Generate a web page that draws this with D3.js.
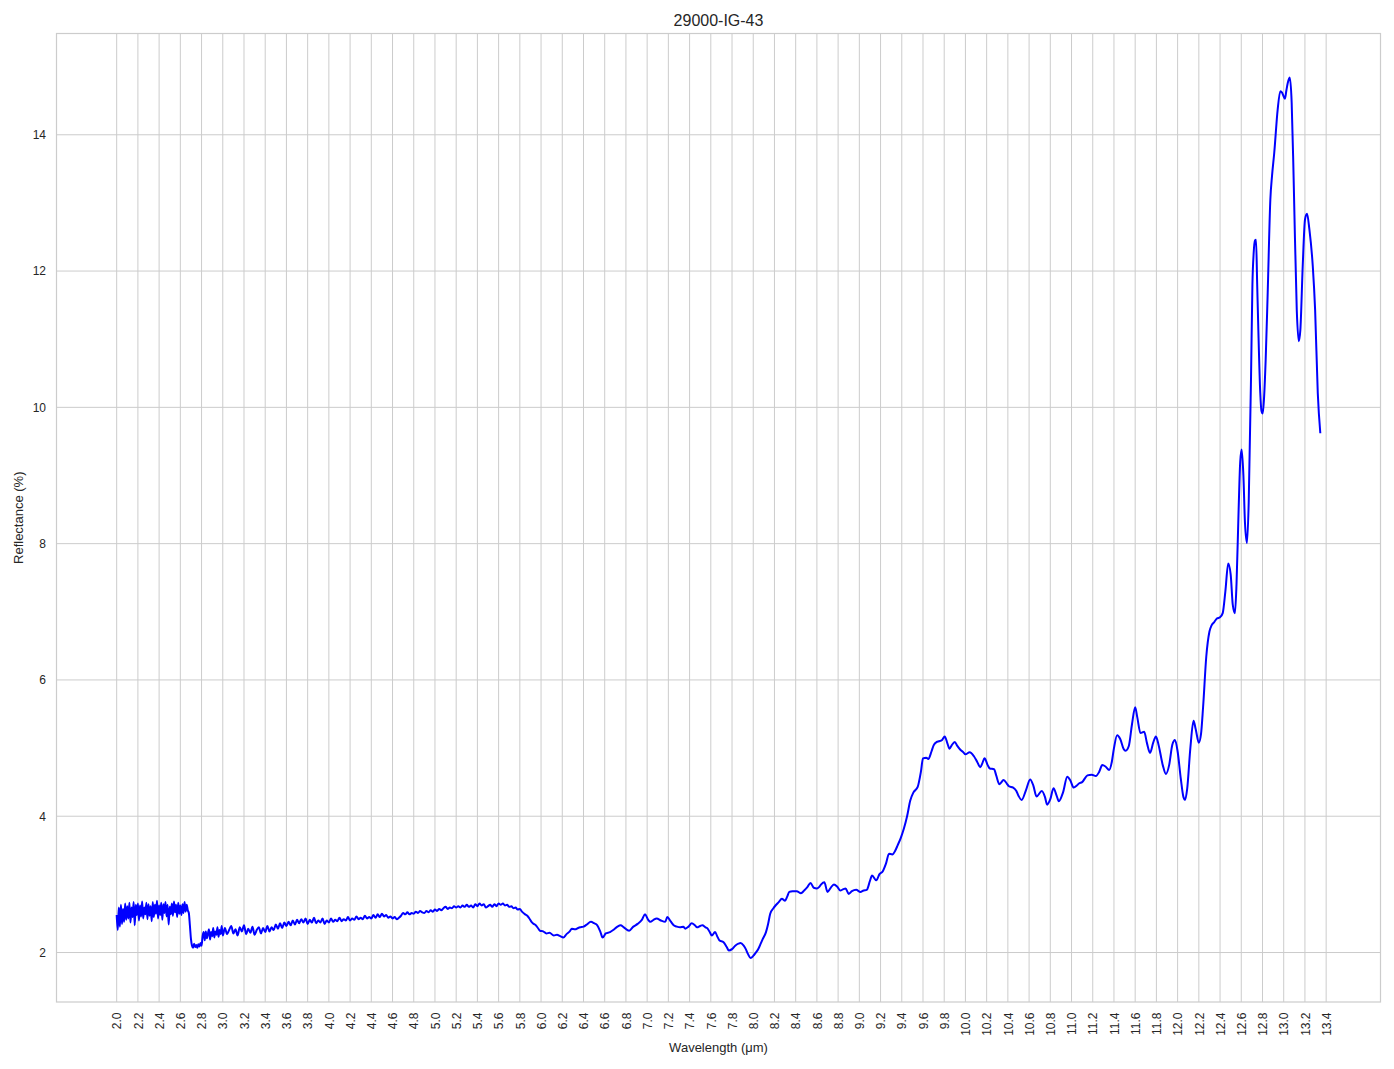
<!DOCTYPE html>
<html>
<head>
<meta charset="utf-8">
<script src="https://cdn.jsdelivr.net/npm/d3@7"></script>
<style>
  html, body { margin: 0; padding: 0; background: #fff; }
  svg { display: block; font-family: "Liberation Sans", Arial, sans-serif; }
</style>
</head>
<body>
<svg id="chart" width="1394" height="1069"></svg>
<script>
// ---------- DATA ----------
const chartTitle = "29000-IG-43";
const xLabel = "Wavelength (μm)";
const yLabel = "Reflectance (%)";

// x tick labels (μm)
const xTicks = ["2.0","2.2","2.4","2.6","2.8","3.0","3.2","3.4","3.6","3.8","4.0","4.2","4.4","4.6","4.8","5.0","5.2","5.4","5.6","5.8","6.0","6.2","6.4","6.6","6.8","7.0","7.2","7.4","7.6","7.8","8.0","8.2","8.4","8.6","8.8","9.0","9.2","9.4","9.6","9.8","10.0","10.2","10.4","10.6","10.8","11.0","11.2","11.4","11.6","11.8","12.0","12.2","12.4","12.6","12.8","13.0","13.2","13.4"];
const yTicks = [2, 4, 6, 8, 10, 12, 14];

// Segment 1: noisy detector region, sampled every 0.01 μm starting at 2.00
const seg1Start = 2.00, seg1Step = 0.01;
const seg1Refl = [
  2.55,2.33,2.66,2.38,2.70,2.42,2.64,2.45,2.72,2.48,
  2.68,2.50,2.73,2.44,2.66,2.52,2.74,2.40,2.70,2.55,
  2.72,2.47,2.69,2.53,2.75,2.50,2.66,2.56,2.73,2.49,
  2.71,2.54,2.68,2.46,2.74,2.52,2.70,2.57,2.76,2.50,
  2.69,2.55,2.73,2.48,2.71,2.58,2.74,2.53,2.70,2.41,
  2.67,2.56,2.72,2.54,2.75,2.59,2.70,2.52,2.73,2.57,
  2.69,2.55,2.71,2.58,2.74,2.60,2.70,2.62,
  2.58,2.40,2.20,2.10,2.07,2.13,2.08,2.11,2.07,2.12,
  2.09,2.14,2.10,2.24,2.30,2.18,2.31,2.21,2.28,2.34,
  2.19,2.30,2.24,2.36,2.22,2.31,2.26,2.37,2.23,2.33,
  2.27,2.39,2.25
];

// Segment 2: sampled every 0.02 μm starting at 3.02
const seg2Start = 3.02, seg2Step = 0.02;
const seg2Refl = [
  2.36,2.27,2.33,2.39,2.28,2.34,2.25,2.37,2.31,2.40,
  2.27,2.35,2.29,2.38,2.26,2.33,2.37,2.28,2.36,2.30,
  2.39,2.31,2.37,2.33,2.41,2.35,2.43,2.36,2.44,2.39,
  2.45,2.40,2.47,2.41,2.48,2.43,2.49,2.44,2.50,2.42,
  2.48,2.44,2.51,2.43,2.47,2.44,2.50,2.42,2.47,2.44,
  2.50,2.45,2.48,2.46,2.51,2.46,2.49,2.47,2.52,2.47,
  2.50,2.48,2.53,2.49,2.51,2.49,2.54,2.50,2.52,2.50,
  2.55,2.51,2.56,2.52,2.57,2.53,2.55,2.51,2.53,2.50,
  2.52,2.49,2.51,2.54,2.58,2.56,2.59,2.56,2.58,2.57,
  2.60,2.58,2.61,2.59,2.58,2.61,2.59,2.62,2.60,2.63,
  2.61,2.64,2.62,2.65,2.67,2.64,2.66,2.65,2.68,2.66,
  2.68,2.66,2.69,2.67,2.70,2.67,2.69,2.66,2.71,2.68,
  2.72,2.69,2.71,2.66,2.68,2.70,2.67,2.71,2.68,2.72,
  2.70,2.72,2.69,2.70,2.67,2.68,2.65,2.66,2.63,2.64
];

// Segment 3: smoother part, irregularly read points
const seg3Wave = [
  5.82,5.85,5.87,5.89,5.91,5.93,5.95,5.97,5.99,6.02,6.05,6.08,6.12,6.15,6.18,6.21,6.24,6.27,6.29,6.32,
  6.35,6.37,6.40,6.43,6.47,6.50,6.53,6.56,6.58,6.61,6.65,6.68,6.72,6.75,6.78,6.83,6.87,6.91,6.95,6.98,
  7.01,7.03,7.06,7.09,7.13,7.17,7.19,7.22,7.25,7.28,7.31,7.34,7.36,7.39,7.42,7.45,7.47,7.50,7.52,7.55,
  7.57,7.59,7.61,7.64,7.66,7.68,7.72,7.75,7.77,7.80,7.83,7.86,7.88,7.91,7.93,7.95,7.975,8.00,8.02,8.05,
  8.07,8.09,8.12,8.14,8.16,8.19,8.21,8.24,8.27,8.30,8.32,8.34,8.37,8.41,8.45,8.48,8.51,8.54,8.57,8.60,
  8.62,8.64,8.67,8.70,8.73,8.76,8.79,8.82,8.85,8.87,8.90,8.93,8.97,9.01,9.04,9.07,9.10,9.12,9.16,9.19,
  9.22,9.25,9.28,9.31,9.34,9.36,9.39,9.42,9.45,9.48,9.51,9.55,9.58,9.60,9.63,9.65,9.68,9.70,9.73,9.75,
  9.78,9.805,9.83,9.85,9.87,9.90,9.92,9.95,9.98,10.00,10.04,10.08,10.11,10.14,10.16,10.18,10.21,10.23,10.27,10.29,
  10.32,10.36,10.39,10.41,10.45,10.48,10.50,10.53,10.57,10.61,10.64,10.67,10.72,10.75,10.77,10.80,10.83,10.86,10.88,10.92,
  10.96,10.99,11.02,11.05,11.07,11.10,11.15,11.19,11.23,11.26,11.29,11.32,11.355,11.38,11.40,11.43,11.46,11.49,11.51,11.54,
  11.57,11.60,11.62,11.65,11.685,11.71,11.74,11.77,11.795,11.82,11.86,11.89,11.92,11.95,11.975,12.00,12.03,12.055,12.07,12.09,
  12.12,12.15,12.17,12.20,12.22,12.24,12.27,12.30,12.32,12.345,12.37,12.40,12.425,12.45,12.477,12.50,12.52,12.54,12.555,12.575,
  12.59,12.604,12.62,12.635,12.654,12.67,12.692,12.705,12.717,12.73,12.739,12.75,12.76,12.779,12.79,12.802,12.815,12.83,12.849,12.874,
  12.89,12.911,12.943,12.968,12.984,13.00,13.012,13.025,13.038,13.057,13.075,13.09,13.10,13.123,13.142,13.157,13.179,13.201,13.22,13.242,
  13.274,13.296,13.321,13.345
];
const seg3Refl = [
  2.60,2.56,2.54,2.50,2.45,2.42,2.40,2.36,2.32,2.31,2.28,2.29,2.25,2.26,2.24,2.22,2.27,2.31,2.35,2.34,
  2.36,2.37,2.38,2.41,2.45,2.43,2.40,2.30,2.22,2.28,2.30,2.33,2.38,2.40,2.37,2.32,2.38,2.42,2.48,2.56,
  2.48,2.45,2.48,2.50,2.47,2.45,2.52,2.46,2.40,2.38,2.37,2.38,2.35,2.38,2.43,2.40,2.37,2.39,2.40,2.37,
  2.35,2.30,2.25,2.30,2.24,2.18,2.15,2.08,2.03,2.05,2.10,2.13,2.14,2.10,2.05,1.98,1.92,1.95,1.99,2.06,
  2.13,2.20,2.30,2.42,2.57,2.65,2.69,2.74,2.79,2.76,2.82,2.89,2.90,2.90,2.87,2.91,2.96,3.02,2.95,2.94,
  2.96,3.00,3.03,2.89,2.95,3.00,2.97,2.91,2.93,2.94,2.86,2.90,2.92,2.89,2.91,2.92,3.05,3.13,3.06,3.15,
  3.19,3.30,3.45,3.44,3.50,3.57,3.68,3.82,4.00,4.23,4.35,4.43,4.65,4.85,4.86,4.84,4.95,5.04,5.09,5.10,
  5.12,5.17,5.07,4.99,5.04,5.09,5.04,4.98,4.94,4.91,4.94,4.88,4.80,4.72,4.78,4.85,4.75,4.70,4.69,4.60,
  4.47,4.53,4.48,4.44,4.42,4.37,4.30,4.24,4.38,4.54,4.45,4.29,4.37,4.28,4.17,4.25,4.41,4.30,4.22,4.35,
  4.58,4.52,4.42,4.45,4.48,4.50,4.60,4.61,4.59,4.65,4.75,4.73,4.68,4.80,5.00,5.19,5.13,4.99,4.96,5.03,
  5.35,5.60,5.45,5.22,5.24,5.08,4.93,5.08,5.17,5.05,4.75,4.62,4.75,5.05,5.12,4.95,4.55,4.28,4.24,4.40,
  5.00,5.40,5.28,5.08,5.20,5.60,6.34,6.71,6.80,6.85,6.90,6.92,6.98,7.30,7.71,7.55,7.10,6.98,7.40,8.50,
  9.20,9.38,9.00,8.30,8.01,8.60,10.45,11.80,12.27,12.45,12.46,11.80,11.19,10.21,9.95,9.91,10.15,10.70,11.68,13.05,
  13.40,13.74,14.37,14.64,14.62,14.56,14.53,14.65,14.76,14.84,14.47,13.60,12.90,11.43,10.97,11.14,12.07,12.76,12.84,12.61,
  12.07,11.43,10.21,9.62
];

// ---------- BUILD SERIES ----------
const series = [];
seg1Refl.forEach((v, i) => series.push({ x: +(seg1Start + i * seg1Step).toFixed(3), y: v }));
seg2Refl.forEach((v, i) => series.push({ x: +(seg2Start + i * seg2Step).toFixed(3), y: v }));
seg3Wave.forEach((w, i) => series.push({ x: w, y: seg3Refl[i] }));

// ---------- LAYOUT ----------
const svg = d3.select("#chart");
const plot = { left: 56.5, right: 1380.5, top: 33.5, bottom: 1002 };
const textColor = "#262626";
const gridColor = "#cccccc";

const xExt = d3.extent(series, d => d.x);
const yExt = d3.extent(series, d => d.y);
const xPad = (xExt[1] - xExt[0]) * 0.05;
const yPad = (yExt[1] - yExt[0]) * 0.05;

const x = d3.scaleLinear().domain([xExt[0] - xPad, xExt[1] + xPad]).range([plot.left, plot.right]);
const y = d3.scaleLinear().domain([yExt[0] - yPad, yExt[1] + yPad]).range([plot.bottom, plot.top]);

// grid
const grid = svg.append("g");
grid.selectAll("line.vx").data(xTicks).enter().append("line")
  .attr("x1", d => x(+d)).attr("x2", d => x(+d))
  .attr("y1", plot.top).attr("y2", plot.bottom)
  .attr("stroke", gridColor).attr("stroke-width", 1);
grid.selectAll("line.hy").data(yTicks).enter().append("line")
  .attr("x1", plot.left).attr("x2", plot.right)
  .attr("y1", d => y(d)).attr("y2", d => y(d))
  .attr("stroke", gridColor).attr("stroke-width", 1);

// axes (labels only, no tick marks)
const xAxis = d3.axisBottom(x).tickValues(xTicks.map(Number)).tickFormat((d, i) => xTicks[i]).tickSize(0).tickPadding(0);
const gx = svg.append("g").attr("transform", `translate(0,${plot.bottom})`).call(xAxis);
gx.select(".domain").remove();
gx.selectAll("text")
  .attr("font-size", 12).attr("fill", textColor).attr("font-family", "Liberation Sans, Arial, sans-serif")
  .attr("text-anchor", "end")
  .attr("dy", "0.35em")
  .attr("transform", "translate(0,10.5) rotate(-90)")
  .attr("x", 0).attr("y", 0);

const yAxis = d3.axisLeft(y).tickValues(yTicks).tickFormat(d3.format("d")).tickSize(0).tickPadding(10.5);
const gy = svg.append("g").attr("transform", `translate(${plot.left},0)`).call(yAxis);
gy.select(".domain").remove();
gy.selectAll("text").attr("font-size", 12).attr("fill", textColor).attr("font-family", "Liberation Sans, Arial, sans-serif");

// line
const line = d3.line().x(d => x(d.x)).y(d => y(d.y)).curve(d3.curveMonotoneX);
svg.append("path").datum(series)
  .attr("d", line)
  .attr("fill", "none")
  .attr("stroke", "#0000ff")
  .attr("stroke-width", 2)
  .attr("stroke-linejoin", "round");

// frame
svg.append("rect")
  .attr("x", plot.left).attr("y", plot.top)
  .attr("width", plot.right - plot.left).attr("height", plot.bottom - plot.top)
  .attr("fill", "none").attr("stroke", gridColor).attr("stroke-width", 1.2);

// title and axis labels
svg.append("text")
  .attr("x", (plot.left + plot.right) / 2).attr("y", 26)
  .attr("text-anchor", "middle").attr("font-size", 16).attr("fill", textColor)
  .text(chartTitle);

svg.append("text")
  .attr("x", (plot.left + plot.right) / 2).attr("y", 1052)
  .attr("text-anchor", "middle").attr("font-size", 13).attr("fill", textColor)
  .text(xLabel);

svg.append("text")
  .attr("transform", `translate(23,${(plot.top + plot.bottom) / 2}) rotate(-90)`)
  .attr("text-anchor", "middle").attr("font-size", 13).attr("fill", textColor)
  .text(yLabel);
</script>
</body>
</html>
